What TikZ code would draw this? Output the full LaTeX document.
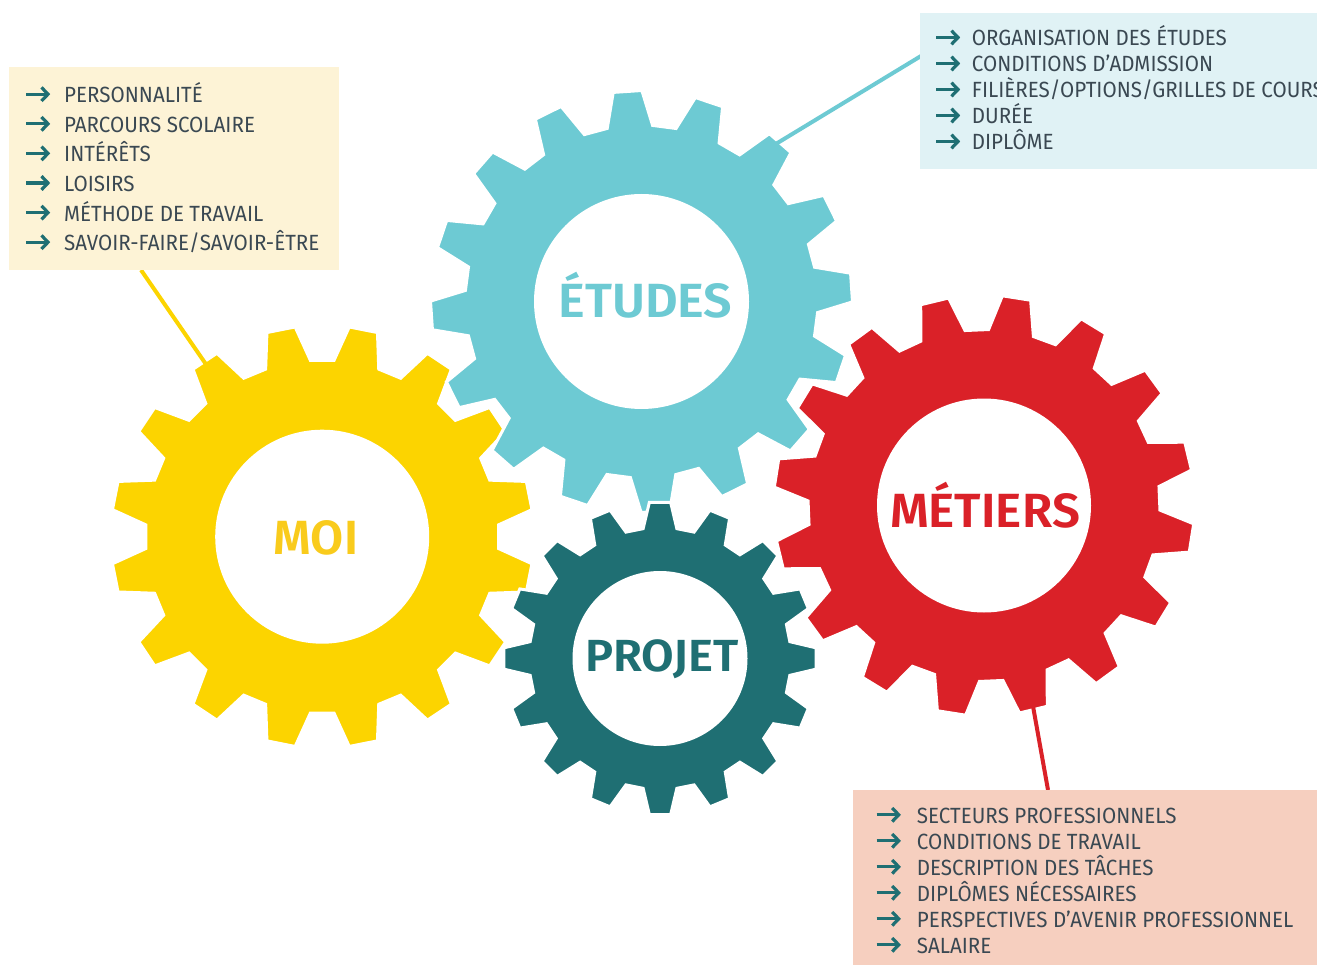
\documentclass[tikz,border=0pt]{standalone}
\usepackage{fontspec}
\usepackage{graphicx}
\setmainfont{Fira Sans}
\newfontfamily\itemfont{Fira Sans}[FakeStretch=0.935]
\newfontfamily\labelfont{Fira Sans SemiBold}
\usetikzlibrary{calc}
\definecolor{gyellow}{HTML}{FCD400}
\definecolor{lyellow}{HTML}{F9CB1C}
\definecolor{gcyan}{HTML}{6DCAD3}
\definecolor{gred}{HTML}{DA2128}
\definecolor{gteal}{HTML}{1F6F73}
\definecolor{boxy}{HTML}{FDF3D6}
\definecolor{boxc}{HTML}{E0F2F5}
\definecolor{boxr}{HTML}{F6CFBF}
\definecolor{txt}{HTML}{3A4852}
\newcommand\gearshape[5]{%
  \pgfmathsetmacro\gRo{#3+1.5}%
  \pgfmathsetmacro\gRi{0.835*#3+1.5}%
  \filldraw[fill=#5, draw=white, line width=3pt, line join=miter]
    ([shift={(#1,#2)}]{#4-90-7.4}:\gRi)
    \foreach \k in {0,...,15}{
      -- ([shift={(#1,#2)}]{#4-90+22.5*\k-7.4}:\gRi)
      -- ([shift={(#1,#2)}]{#4-90+22.5*\k-3.9}:\gRo)
      -- ([shift={(#1,#2)}]{#4-90+22.5*\k+3.9}:\gRo)
      -- ([shift={(#1,#2)}]{#4-90+22.5*\k+7.4}:\gRi)
    } -- cycle;
}
\begin{document}
\begin{tikzpicture}[x=1pt,y=-1pt,
  itemtext/.style={anchor=base west, inner sep=0pt, text=txt, font=\itemfont\fontsize{22}{22}\selectfont},
  bigl/.style={anchor=base, inner sep=0pt, font=\labelfont\fontsize{48}{48}\selectfont},
  leader/.style={line width=4pt},
  infobox/.style={anchor=north west, inner sep=0pt, draw=none},
  bulline/.style={line width=3.2pt, draw=gteal},
  arrowbul/.pic={\draw[bulline] (-12,0) -- (10,0); \draw[bulline, line join=miter] (3.5,-6.8) -- (10,0) -- (3.5,6.8);}
]
\useasboundingbox (0,0) rectangle (1317,965);
% gears
\gearshape{322.2}{536.7}{210}{11.25}{gyellow}
\gearshape{641.5}{301.5}{209.5}{-3.8}{gcyan}
\gearshape{984}{505.5}{209}{8.9}{gred}
\gearshape{660}{658.5}{155}{0}{gteal}
\fill[white] (322.2,536.7) circle (107);
\fill[white] (641.5,301.5) circle (107.5);
\fill[white] (984,505.5) circle (107);
\fill[white] (660,658.5) circle (87.5);
% labels
\node[bigl, text=lyellow] (moi) at (316,554) {MOI};
\node[bigl, text=gcyan] (etudes) at (645.5,317.3) {\scalebox{1.05}[1]{ÉTUDES}};
\node[bigl, text=gred] (metiers) at (985,527.3) {\scalebox{1.03}[1]{MÉTIERS}};
\node[bigl, text=gteal, font=\labelfont\fontsize{45}{45}\selectfont] (projet) at (662,671.7) {\scalebox{1.05}[1]{PROJET}};
% leaders
\coordinate (lma) at (141,270); \coordinate (lmb) at (212,373);
\coordinate (lea) at (921,56);  \coordinate (leb) at (770,147.5);
\coordinate (lra) at (1031,695); \coordinate (lrb) at (1048,790);
\draw[leader, gyellow] (lma) -- (lmb);
\draw[leader, gcyan] (lea) -- (leb);
\draw[leader, gred] (lra) -- (lrb);
% boxes
\node[infobox, fill=boxy, minimum width=330pt, minimum height=203pt] (bmoi) at (9,67) {};
\node[infobox, fill=boxc, minimum width=397pt, minimum height=156pt] (betudes) at (920,13) {};
\node[infobox, fill=boxr, minimum width=464pt, minimum height=175pt] (bmetiers) at (853,790) {};
% items
\foreach \t [count=\i] in {PERSONNALITÉ, PARCOURS SCOLAIRE, INTÉRÊTS, LOISIRS, MÉTHODE DE TRAVAIL, SAVOIR-FAIRE/SAVOIR-ÊTRE}{
  \node[itemtext] (m\i) at (64,{102.7+29.6*(\i-1)}) {\t};
  \pic at ([xshift=-26pt,yshift=8.5pt]m\i.base west) {arrowbul};
}
\foreach \t [count=\i] in {ORGANISATION DES ÉTUDES, CONDITIONS D’ADMISSION, FILIÈRES/OPTIONS/GRILLES DE COURS, DURÉE, DIPLÔME}{
  \node[itemtext] (e\i) at (971.7,{46+26*(\i-1)}) {\t};
  \pic at ([xshift=-23.7pt,yshift=8.5pt]e\i.base west) {arrowbul};
}
\foreach \t [count=\i] in {SECTEURS PROFESSIONNELS, CONDITIONS DE TRAVAIL, DESCRIPTION DES TÂCHES, DIPLÔMES NÉCESSAIRES, PERSPECTIVES D’AVENIR PROFESSIONNEL, SALAIRE}{
  \node[itemtext] (r\i) at (916.7,{823.3+26*(\i-1)}) {\t};
  \pic at ([xshift=-28pt,yshift=8.5pt]r\i.base west) {arrowbul};
}
\end{tikzpicture}
\end{document}
